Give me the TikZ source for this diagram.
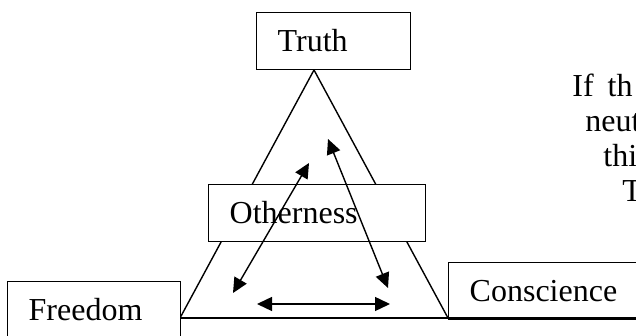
\documentclass[tikz,border=0pt]{standalone}
\usepackage{fontspec}
\setmainfont{Liberation Serif}
\usetikzlibrary{arrows.meta}

\begin{document}
\begin{tikzpicture}[
  x = 0.5pt, y = 0.5pt,
  every node/.style = {font = \fontsize{16}{18}\selectfont},
  word box/.style = {draw, fill = white, line width = 0.7pt, anchor = north west,
                     minimum height = 28.5pt, inner xsep = 10.5pt, inner ysep = 0pt,
                     align = left, text height = 10.5pt, text depth = 0pt},
  both ways/.style = {{Triangle[length = 7.5pt, width = 7pt]}-{Triangle[length = 7.5pt, width = 7pt]},
                      line width = 0.7pt},
  side text/.style = {anchor = base west, inner sep = 0pt},
  ]
  \useasboundingbox (0,0) rectangle (636,336);
  % the triangle
  \coordinate (apex) at (314,266);
  \coordinate (corner l) at (180,18);
  \coordinate (corner r) at (448,18);
  \coordinate (base end) at (650,18);
  \draw[line width = 0.7pt] (corner l) -- (apex) -- (corner r);
  % the four words
  \node[word box, text width = 56pt] (truth) at (256,324) {Truth};
  \node[word box, text width = 87.5pt] (otherness) at (208,152) {Otherness};
  \node[word box, text width = 65.5pt] (freedom) at (7,55) {Freedom};
  \node[word box, text width = 79pt] (conscience) at (448,74) {Conscience};
  \draw[line width = 1.1pt] (corner l) -- (base end);
  % arrows inside
  \coordinate (a1) at (233,43);
  \coordinate (a2) at (309,173);
  \coordinate (b1) at (328,197);
  \coordinate (b2) at (388,48);
  \coordinate (c1) at (257,32);
  \coordinate (c2) at (390,32);
  \draw[both ways] (a1) -- (a2);
  \draw[both ways] (b1) -- (b2);
  \draw[both ways] (c1) -- (c2);
  % text at the right edge
  \node[side text] (line1) at (572,239) {If\hspace{3pt} th};
  \node[side text] (line2) at (585,204) {neut};
  \node[side text] (line3) at (603,169) {thi};
  \node[side text] (line4) at (622,134) {T};
\end{tikzpicture}
\end{document}
